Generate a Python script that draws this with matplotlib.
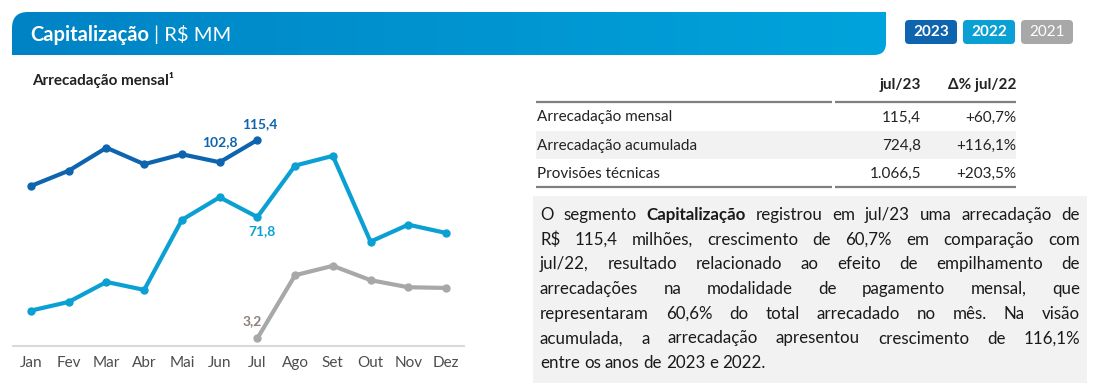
import numpy as np
import matplotlib
matplotlib.use('Agg')
import matplotlib.pyplot as plt
from matplotlib.path import Path
from matplotlib.patches import PathPatch, FancyBboxPatch, Rectangle
from matplotlib.colors import LinearSegmentedColormap

FONT = ['Lato', 'DejaVu Sans']

# chart data (R$ MM)
months = ['Jan', 'Fev', 'Mar', 'Abr', 'Mai', 'Jun', 'Jul', 'Ago', 'Set', 'Out', 'Nov', 'Dez']
v2023 = [89.4, 98.0, 111.0, 101.7, 107.3, 102.8, 115.4]
v2022 = [18.9, 23.8, 35.1, 30.6, 70.2, 83.0, 71.8, 100.9, 106.4, 57.9, 67.5, 62.8]
v2021 = [3.2, 38.9, 44.2, 36.1, 32.1, 31.7]  # jul..dez
years = ['2023', '2022', '2021']

# table
row_names = ['Arrecadação mensal', 'Arrecadação acumulada', 'Provisões técnicas']
col_jul23 = ['115,4', '724,8', '1.066,5']
col_delta = ['+60,7%', '+116,1%', '+203,5%']

# comment text, one list per line: (word, bold)
body = [
    [('O', 0), ('segmento', 0), ('Capitalização', 1), ('registrou', 0), ('em', 0), ('jul/23', 0),
     ('uma', 0), ('arrecadação', 0), ('de', 0)],
    [('R$', 0), ('115,4', 0), ('milhões,', 0), ('crescimento', 0), ('de', 0), ('60,7%', 0), ('em', 0),
     ('comparação', 0), ('com', 0)],
    [('jul/22,', 0), ('resultado', 0), ('relacionado', 0), ('ao', 0), ('efeito', 0), ('de', 0),
     ('empilhamento', 0), ('de', 0)],
    [('arrecadações', 0), ('na', 0), ('modalidade', 0), ('de', 0), ('pagamento', 0), ('mensal,', 0), ('que', 0)],
    [('representaram', 0), ('60,6%', 0), ('do', 0), ('total', 0), ('arrecadado', 0), ('no', 0), ('mês.', 0),
     ('Na', 0), ('visão', 0)],
    [('acumulada,', 0), ('a', 0), ('arrecadação', 0), ('apresentou', 0), ('crescimento', 0), ('de', 0),
     ('116,1%', 0)],
    [('entre', 0), ('os', 0), ('anos', 0), ('de', 0), ('2023', 0), ('e', 0), ('2022.', 0)],
]

c23, c22, c21 = '#0E64AE', '#0BA0D3', '#A8A8A8'

fig = plt.figure(figsize=(11, 3.88), dpi=100)
bg = fig.add_axes([0, 0, 1, 1])
bg.set_xlim(0, 1100)
bg.set_ylim(388, 0)
bg.axis('off')
rend = fig.canvas.get_renderer()

# title banner, rounded top-left and bottom-right
x0, x1, y0, y1, r1, r2 = 12, 886, 12, 55, 16, 12
verts = [(x0, y1), (x0, y0 + r1), (x0, y0), (x0 + r1, y0), (x1, y0), (x1, y1 - r2),
         (x1, y1), (x1 - r2, y1), (x0, y1)]
codes = [Path.MOVETO, Path.LINETO, Path.CURVE3, Path.CURVE3, Path.LINETO, Path.LINETO,
         Path.CURVE3, Path.CURVE3, Path.CLOSEPOLY]
banner = PathPatch(Path(verts, codes), facecolor='none', edgecolor='none')
bg.add_patch(banner)
cmap = LinearSegmentedColormap.from_list('b', ['#0083C5', '#00A4DC'])
im = bg.imshow(np.linspace(0, 1, 256)[None, :], cmap=cmap, extent=[x0, x1, y1, y0], aspect='auto')
im.set_clip_path(banner)
bg.set_xlim(0, 1100)
bg.set_ylim(388, 0)

t = bg.text(30, 35, 'Capitalização', color='white', fontsize=14.5, fontweight='bold',
            va='center', family=FONT)
w = t.get_window_extent(rend).width
bg.text(30 + w + 5, 35, '| R$ MM', color='white', fontsize=14.5, va='center', family=FONT)

# year badges
for i, (yr, c) in enumerate(zip(years, [c23, c22, c21])):
    bx = 905 + i * 58
    bg.add_patch(FancyBboxPatch((bx, 20), 52, 24, boxstyle='round,pad=0,rounding_size=4',
                                facecolor=c, edgecolor='none'))
    bg.text(bx + 26, 32.5, yr, color='white', fontsize=11, ha='center', va='center',
            fontweight='normal' if yr == '2021' else 'bold', family=FONT)

bg.text(32, 80, 'Arrecadação mensal¹', fontsize=11, fontweight='bold', color='#222222',
        va='center', family=FONT)

# line chart
ax = fig.add_axes([13 / 1100, 42 / 388, 451 / 1100, 246 / 388])
x = np.arange(len(months))
ax.plot(x[:len(v2023)], v2023, color=c23, lw=3, marker='o', ms=5, solid_capstyle='round')
ax.plot(x, v2022, color=c22, lw=3, marker='o', ms=5, solid_capstyle='round')
ax.plot(x[6:], v2021, color=c21, lw=3, marker='o', ms=5, solid_capstyle='round')
ax.set_xlim(-0.477, 11.477)
ax.set_ylim(-1.13, 138)
ax.patch.set_alpha(0)
for s in ['top', 'left', 'right']:
    ax.spines[s].set_visible(False)
ax.spines['bottom'].set_color('#D9D9D9')
ax.spines['bottom'].set_linewidth(1.5)
ax.set_yticks([])
ax.set_xticks(x)
ax.set_xticklabels(months, fontsize=11, color='#4D4D4D', family=FONT)
ax.tick_params(axis='x', length=0, pad=7)

lab = dict(textcoords='offset pixels', ha='center', va='center', fontsize=10,
           fontweight='bold', family=FONT)
ax.annotate('115,4', (6, v2023[6]), xytext=(2, 16), color=c23, **lab)
ax.annotate('102,8', (5, v2023[5]), xytext=(0, 20), color=c23, **lab)
ax.annotate('71,8', (6, v2022[6]), xytext=(5, -14), color=c22, **lab)
ax.annotate('3,2', (6, v2021[0]), xytext=(-5, 17), color='#8C7F78', **lab)

# table
tf = dict(fontsize=11, color='#222222', va='center', family=FONT)
bg.text(921, 85, 'jul/23', ha='right', fontweight='bold', **tf)
bg.text(1016, 85, 'Δ% jul/22', ha='right', fontweight='bold', **tf)
for yy in [101.5, 186.5]:
    bg.plot([536, 832], [yy, yy], color='#7F7F7F', lw=1.6, solid_capstyle='butt')
    bg.plot([835, 1016], [yy, yy], color='#7F7F7F', lw=1.6, solid_capstyle='butt')
bg.add_patch(Rectangle((536, 131), 480, 28, facecolor='#F2F2F2', edgecolor='none'))
for i, (n, a, d) in enumerate(zip(row_names, col_jul23, col_delta)):
    yy = 117.5 + i * 28.3
    bg.text(537, yy, n, ha='left', **tf)
    bg.text(921, yy, a, ha='right', **tf)
    bg.text(1016, yy, d, ha='right', **tf)

# comment box, justified lines
bg.add_patch(Rectangle((533, 196), 554, 187, facecolor='#F2F2F2', edgecolor='none'))
lx0, lx1 = 540, 1080
for li, line in enumerate(body):
    yy = 215 + li * 24.7
    objs = [bg.text(0, yy, wd, fontsize=12.2, color='#1A1A1A', va='center', ha='left',
                    fontweight='bold' if b else 'normal', family=FONT) for wd, b in line]
    ws = [o.get_window_extent(rend).width for o in objs]
    if li < len(body) - 1:
        gap = (lx1 - lx0 - sum(ws)) / (len(objs) - 1)
    else:
        gap = 4.0
    xx = lx0
    for o, wd in zip(objs, ws):
        o.set_x(xx)
        xx += wd + gap

fig.savefig('out.png', dpi=100)
